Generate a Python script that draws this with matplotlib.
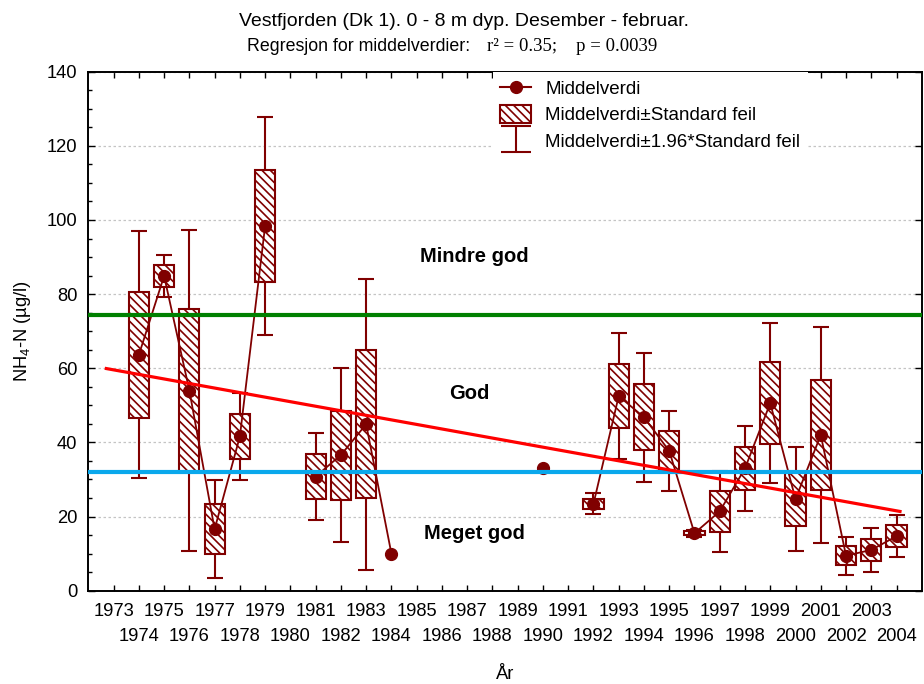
import numpy as np
import matplotlib
matplotlib.use('Agg')
import matplotlib.pyplot as plt
from matplotlib.lines import Line2D
from matplotlib.patches import Patch
from matplotlib.path import Path
from matplotlib.ticker import MultipleLocator

plt.rcParams['font.family'] = ['Liberation Sans', 'DejaVu Sans']
plt.rcParams['mathtext.default'] = 'regular'
plt.rcParams['hatch.linewidth'] = 1.2

# data (mean and standard error per year)
aar = [1974, 1975, 1976, 1977, 1978, 1979, 1981, 1982, 1983, 1984, 1990,
       1992, 1993, 1994, 1995, 1996, 1997, 1998, 1999, 2000, 2001, 2002, 2003, 2004]
middel = [63.6, 84.9, 54.0, 16.6, 41.6, 98.4, 30.8, 36.6, 44.9, 10.0, 33.0,
          23.4, 52.5, 46.8, 37.7, 15.5, 21.4, 33.0, 50.6, 24.7, 42.0, 9.45, 11.0, 14.7]
std_feil = [17.0, 2.85, 22.1, 6.7, 6.0, 15.05, 6.0, 12.0, 20.0, np.nan, np.nan,
            1.45, 8.65, 8.9, 5.5, 0.5, 5.6, 5.8, 11.0, 7.2, 14.8, 2.6, 3.0, 2.9]

# klassegrenser og regresjonslinje
grense_mindre_god = 74.5
grense_god = 32.0
reg_aar = [1972.65, 2004.2]
reg_verdi = [60.0, 21.3]

klasser = ['Mindre god', 'God', 'Meget god']
klasse_x = [1987.3, 1987.1, 1987.3]
klasse_y = [90.1, 53.3, 15.5]

alle_aar = np.arange(1973, 2005)

mork_rod = '#800000'

aar_arr = np.array(aar)
middel_arr = np.array(middel)
se_arr = np.array(std_feil)

# linje som bare binder sammen paafolgende aar
middel_full = np.full(len(alle_aar), np.nan)
for a, m in zip(aar, middel):
    middel_full[a - 1973] = m

fig = plt.figure(figsize=(9.24, 6.84), dpi=100)
ax = fig.add_axes([0.0956, 0.1364, 0.902, 0.7588])

ax.errorbar(aar_arr, middel_arr, yerr=1.96 * se_arr, fmt='none', ecolor=mork_rod,
            elinewidth=1.5, capsize=5.8, capthick=1.5, zorder=2)
ax.bar(aar_arr, 2 * se_arr, bottom=middel_arr - se_arr, width=0.8, facecolor='white',
       edgecolor=mork_rod, hatch='\\\\\\\\', linewidth=1.5, zorder=3)
ax.plot(alle_aar, middel_full, color=mork_rod, lw=1.3, marker='o', markersize=8.5, zorder=4)

ax.axhline(grense_mindre_god, color='#008000', lw=3, zorder=5)
ax.axhline(grense_god, color='#0aa8ec', lw=3, zorder=5)
ax.plot(reg_aar, reg_verdi, color='#ff0000', lw=2.3, solid_capstyle='butt', zorder=6)

for t, x, y in zip(klasser, klasse_x, klasse_y):
    ax.text(x, y, t, ha='center', va='center', fontsize=14.5, fontweight='bold')

ax.set_xlim(1972, 2005)
ax.set_ylim(0, 140)
ax.yaxis.set_major_locator(MultipleLocator(20))
ax.yaxis.set_minor_locator(MultipleLocator(5))

odde = [a for a in alle_aar if a % 2 == 1]
like = [a for a in alle_aar if a % 2 == 0]
ax.set_xticks(odde, labels=[str(a) for a in odde])
ax.set_xticks(like, labels=[str(a) for a in like], minor=True)

ax.tick_params(axis='x', which='both', direction='in', top=True, length=4, width=1,
               labelsize=13.2)
ax.tick_params(axis='x', which='major', pad=9)
ax.tick_params(axis='x', which='minor', pad=27)
ax.tick_params(axis='y', which='major', direction='in', right=True, length=5, width=1,
               labelsize=13.2, pad=8)
ax.tick_params(axis='y', which='minor', direction='in', right=False, length=3, width=1)

for s in ax.spines.values():
    s.set_linewidth(1.4)

ax.grid(axis='y', which='major', linestyle=(0, (2, 2)), color='#c4c4c4', lw=0.9)
ax.set_axisbelow(True)

ax.set_xlabel('År', fontsize=13.2, labelpad=15)
ax.set_ylabel('NH$_4$-N (µg/l)', fontsize=13.2, labelpad=10)

# legende
whisker_sti = Path([(-0.5, -0.42), (0.5, -0.42), (0, -0.42), (0, 0.42), (-0.5, 0.42), (0.5, 0.42)],
                   [Path.MOVETO, Path.LINETO, Path.MOVETO, Path.LINETO, Path.MOVETO, Path.LINETO])
h1 = Line2D([], [], color=mork_rod, lw=1.5, marker='o', markersize=8.5)
h2 = Patch(facecolor='white', edgecolor=mork_rod, hatch='\\\\\\\\', linewidth=1.5)
h3 = Line2D([], [], linestyle='none', marker=whisker_sti, markersize=21.6,
            markeredgecolor=mork_rod, markerfacecolor='none', markeredgewidth=1.5)
leg = ax.legend([h1, h2, h3],
                ['Middelverdi', 'Middelverdi±Standard feil', 'Middelverdi±1.96*Standard feil'],
                loc='upper left', bbox_to_anchor=(0.485, 1.0), borderaxespad=0,
                fontsize=13.5, handlelength=1.65, handleheight=1.05, labelspacing=0.38,
                handletextpad=0.75, frameon=True, fancybox=False, numpoints=1)
leg.get_frame().set_edgecolor('none')
leg.get_frame().set_facecolor('white')
leg.get_frame().set_alpha(1)
leg.set_zorder(10)

fig.text(0.502, 0.969, 'Vestfjorden (Dk 1). 0 - 8 m dyp. Desember - februar.',
         ha='center', va='center', fontsize=14)
fig.text(0.509, 0.932, 'Regresjon for middelverdier:', ha='right', va='center', fontsize=12.8)
fig.text(0.527, 0.932, 'r² = 0.35;    p = 0.0039', ha='left', va='center', fontsize=13.5,
         family=['Liberation Serif', 'DejaVu Serif'])

fig.savefig('out.png', dpi=100)
